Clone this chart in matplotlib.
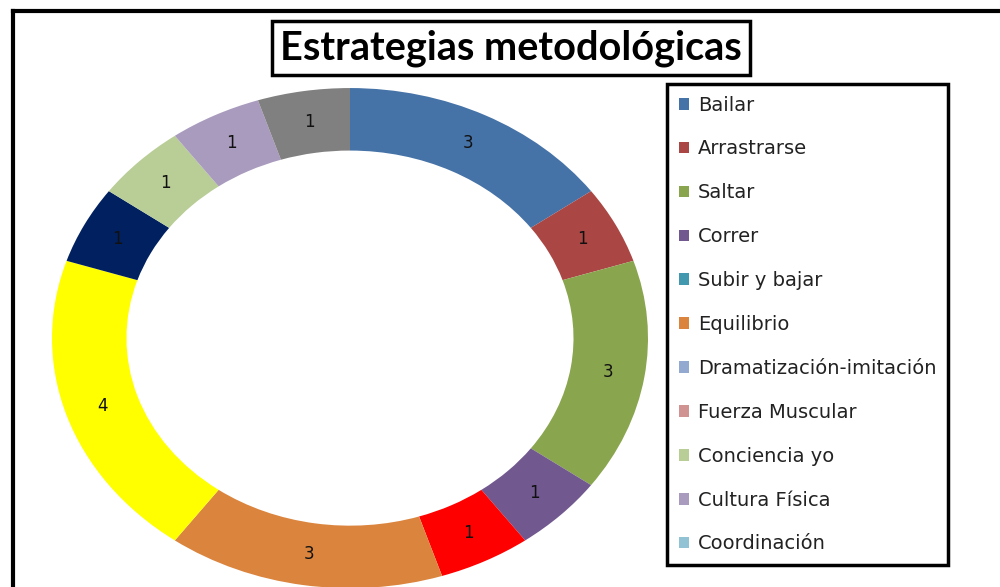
import matplotlib.pyplot as plt
from matplotlib.patches import Patch
from matplotlib.lines import Line2D

categorias = ['Bailar', 'Arrastrarse', 'Saltar', 'Correr', 'Subir y bajar', 'Equilibrio',
              'Dramatización-imitación', 'Fuerza Muscular', 'Conciencia yo', 'Cultura Física',
              'Coordinación']
valores = [3, 1, 3, 1, 1, 3, 4, 1, 1, 1, 1]
colores_sector = ['#4572A7', '#AA4643', '#89A54E', '#71588F', '#FF0000', '#DB843D',
                  '#FFFF00', '#002060', '#B9CD96', '#A99BBD', '#808080']
colores_leyenda = ['#4572A7', '#AA4643', '#89A54E', '#71588F', '#4198AF', '#DB843D',
                   '#93A9CF', '#D19392', '#B9CD96', '#A99BBD', '#92C3D4']

fig = plt.figure(figsize=(10, 5.87), dpi=100)
ax = fig.add_axes([0.052, -0.002, 0.596, 0.852])
total = sum(valores)
wedges, _, textos = ax.pie(valores, colors=colores_sector, startangle=90, counterclock=False,
                           wedgeprops=dict(width=0.25, linewidth=0),
                           autopct=lambda p: '%d' % round(p * total / 100.0),
                           pctdistance=0.875,
                           textprops=dict(fontsize=12, color='#111111', family='DejaVu Sans'))
ax.set_aspect('auto')
ax.set_xlim(-1, 1)
ax.set_ylim(-1, 1)
ax.axis('off')

# marco exterior del grafico
fig.add_artist(Line2D([0.013, 0.013], [-0.01, 0.982], color='black', lw=3, transform=fig.transFigure))
fig.add_artist(Line2D([0.013, 1.01], [0.982, 0.982], color='black', lw=3, transform=fig.transFigure))

fig.text(0.511, 0.918, 'Estrategias metodológicas', ha='center', va='center',
         fontsize=28.5, fontweight='bold', family='Lato',
         bbox=dict(boxstyle='square,pad=0.2', fc='white', ec='black', lw=2.5))

handles = [Patch(facecolor=c, edgecolor='none') for c in colores_leyenda]
leg = fig.legend(handles, categorias, loc='upper left', bbox_to_anchor=(0.667, 0.857),
                 frameon=True, fancybox=False, framealpha=1,
                 prop=dict(family='DejaVu Sans', size=14),
                 handlelength=0.55, handleheight=0.55,
                 handletextpad=0.45, labelspacing=1.28, borderpad=0.6, borderaxespad=0)
leg.get_frame().set_edgecolor('black')
leg.get_frame().set_linewidth(2.5)
for t in leg.get_texts():
    t.set_color('#222222')

plt.savefig('out.png', dpi=100)
